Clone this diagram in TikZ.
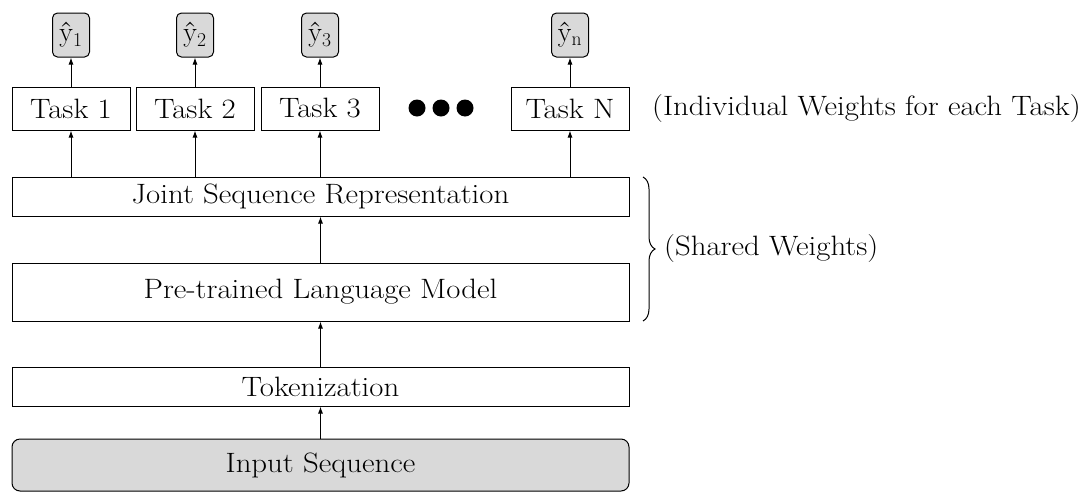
\documentclass[tikz,border=0pt]{standalone}
\usetikzlibrary{arrows.meta,decorations.pathreplacing}
\definecolor{boxgray}{HTML}{D9D9D9}
\newcommand{\wtxt}[1]{\scalebox{1.1}[1]{#1}}
\begin{document}
\begin{tikzpicture}[x=1pt,y=-1pt,
  font=\fontsize{28}{32}\selectfont,
  box/.style={draw, line width=1pt, rectangle, inner sep=0pt, fill=white},
  outbox/.style={draw, line width=1pt, rounded corners=5pt, fill=boxgray, inner sep=0pt, minimum width=37pt, minimum height=44pt},
  arr/.style={line width=1pt, -{Latex[length=7pt,width=5pt]}},
  dot/.style={circle, fill=black, inner sep=0pt, minimum size=17pt}
]
\useasboundingbox (0,0) rectangle (1081,493);
% bottom stack
\node[box, rounded corners=8pt, fill=boxgray, minimum width=617pt, minimum height=52pt] (inp) at (320.5,465) {\wtxt{Input Sequence}};
\node[box, minimum width=617pt, minimum height=39pt] (tok) at (320.5,386.5) {\wtxt{Tokenization}};
\node[box, minimum width=617pt, minimum height=58pt] (plm) at (320.5,292) {\wtxt{Pre-trained Language Model}};
\node[box, minimum width=617pt, minimum height=39pt] (jsr) at (320.5,196.5) {\wtxt{Joint Sequence Representation}};
% tasks
\node[box, minimum width=118pt, minimum height=43pt] (t1) at (71,108.5) {\wtxt{Task 1}};
\node[box, minimum width=118pt, minimum height=43pt] (t2) at (195,108.5) {\wtxt{Task 2}};
\node[box, minimum width=118pt, minimum height=43pt] (t3) at (320,108.5) {\wtxt{Task 3}};
\node[box, minimum width=118pt, minimum height=43pt] (tn) at (570,108.5) {\wtxt{Task N}};
% outputs
\node[outbox] (y1) at (71,35) {\^y\textsubscript{1}};
\node[outbox] (y2) at (195,35) {\^y\textsubscript{2}};
\node[outbox] (y3) at (320,35) {\^y\textsubscript{3}};
\node[outbox] (yn) at (570,35) {\^y\textsubscript{n}};
% dots
\node[dot] (d1) at (417,108) {};
\node[dot] (d2) at (441,108) {};
\node[dot] (d3) at (465,108) {};
% arrows
\draw[arr] (inp.north) -- (tok.south);
\draw[arr] (tok.north) -- (plm.south);
\draw[arr] (plm.north) -- (jsr.south);
\foreach \t in {t1,t2,t3,tn} \draw[arr] (jsr.north -| \t) -- (\t.south);
\draw[arr] (t1.north) -- (y1.south);
\draw[arr] (t2.north) -- (y2.south);
\draw[arr] (t3.north) -- (y3.south);
\draw[arr] (tn.north) -- (yn.south);
% brace
\coordinate (btop) at (643,177);
\coordinate (bbot) at (643,321);
\draw[line width=1pt, decorate, decoration={brace, amplitude=12pt}] (btop) -- (bbot);
\node[anchor=west, inner sep=0pt] (shared) at (664,249) {\wtxt{(Shared Weights)}};
\node[anchor=west, inner sep=0pt] (indiv) at (652,108.5) {\wtxt{(Individual Weights for each Task)}};
\end{tikzpicture}
\end{document}
